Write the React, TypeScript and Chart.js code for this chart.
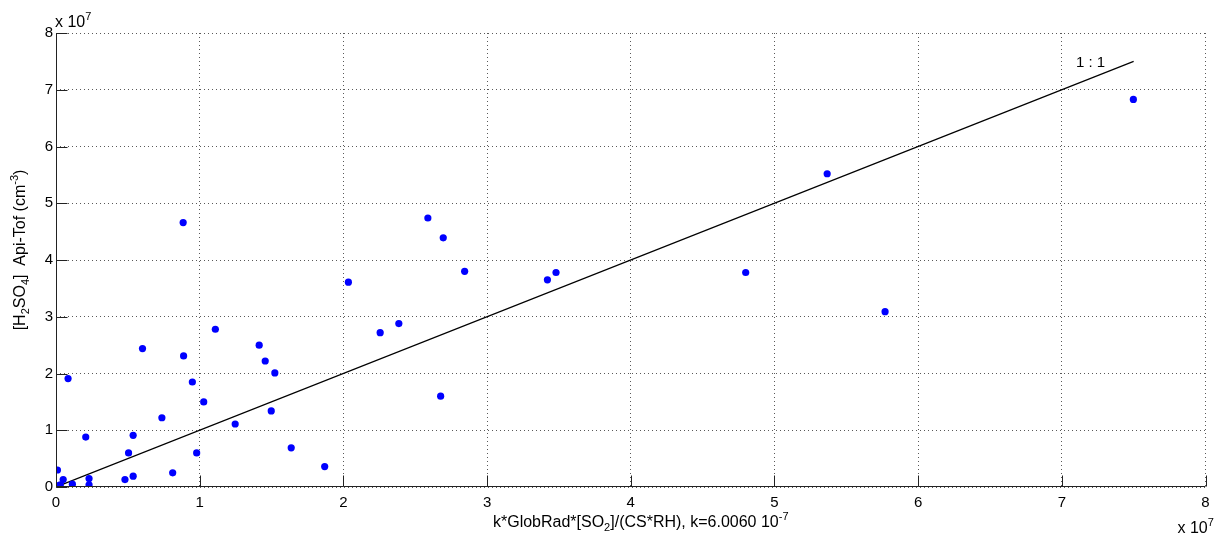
import React, { useEffect, useRef } from "react";
import { Chart, registerables } from "chart.js";

Chart.register(...registerables);

// Values in units of 1e7 (axes carry the "x 10^7" multiplier)
const xValues = [
  0.01, 0.01, 0.03, 0.05, 0.084, 0.114, 0.207, 0.23, 0.23, 0.48, 0.505, 0.537,
  0.537, 0.602, 0.737, 0.812, 0.885, 0.888, 0.949, 0.979, 1.028, 1.109, 1.247,
  1.414, 1.456, 1.498, 1.523, 1.637, 1.87, 2.035, 2.256, 2.386, 2.588, 2.695,
  2.677, 2.844, 3.42, 3.48, 4.8, 5.367, 5.77, 7.498,
];
const yValues = [
  0.3, 0.02, 0.04, 0.13, 1.91, 0.05, 0.88, 0.15, 0.04, 0.13, 0.6, 0.91, 0.19,
  2.44, 1.22, 0.25, 4.66, 2.31, 1.85, 0.6, 1.5, 2.78, 1.11, 2.5, 2.22, 1.34,
  2.01, 0.69, 0.36, 3.61, 2.72, 2.88, 4.74, 4.39, 1.6, 3.8, 3.65, 3.78, 3.78,
  5.52, 3.09, 6.83,
];
const oneToOneX = [0, 7.5];
const oneToOneY = [0, 7.5];
const oneToOneLabel = "1 : 1";
const tickValues = [0, 1, 2, 3, 4, 5, 6, 7, 8];
const axisMin = 0;
const axisMax = 8;
const multiplierBase = "x 10";
const multiplierExp = "7";

type Run = { t: string; k: "n" | "sub" | "sup" };
const xTitleRuns: Run[] = [
  { t: "k*GlobRad*[SO", k: "n" },
  { t: "2", k: "sub" },
  { t: "]/(CS*RH), k=6.0060 10", k: "n" },
  { t: "-7", k: "sup" },
];
const yTitleRuns: Run[] = [
  { t: "[H", k: "n" },
  { t: "2", k: "sub" },
  { t: "SO", k: "n" },
  { t: "4", k: "sub" },
  { t: "]  Api-Tof (cm", k: "n" },
  { t: "-3", k: "sup" },
  { t: ")", k: "n" },
];

const FONT = "'Liberation Sans', Arial, Helvetica, sans-serif";
const fontFor = (k: string) => (k === "n" ? `16px ${FONT}` : `11px ${FONT}`);
const offFor = (k: string) => (k === "sub" ? 4 : k === "sup" ? -7 : 0);

function drawRuns(ctx: CanvasRenderingContext2D, runs: Run[], x: number, y: number, align: "left" | "center") {
  let total = 0;
  for (const r of runs) {
    ctx.font = fontFor(r.k);
    total += ctx.measureText(r.t).width;
  }
  let cx = align === "center" ? x - total / 2 : x;
  ctx.textAlign = "left";
  ctx.textBaseline = "alphabetic";
  for (const r of runs) {
    ctx.font = fontFor(r.k);
    ctx.fillText(r.t, cx, y + offFor(r.k));
    cx += ctx.measureText(r.t).width;
  }
}

const decorPlugin = {
  id: "matlabDecor",
  afterDraw(chart: any) {
    const ctx: CanvasRenderingContext2D = chart.ctx;
    const xs = chart.scales.x;
    const ys = chart.scales.y;
    const { left, right, top, bottom } = chart.chartArea;
    ctx.save();
    ctx.strokeStyle = "#222";
    ctx.lineWidth = 1;
    ctx.setLineDash([]);
    // axis lines
    const L = Math.round(left) + 0.5;
    const B = Math.round(bottom) - 0.5;
    ctx.beginPath();
    ctx.moveTo(L, top);
    ctx.lineTo(L, B);
    ctx.lineTo(right, B);
    ctx.stroke();
    // inward ticks
    ctx.beginPath();
    for (const v of tickValues) {
      const py = Math.round(ys.getPixelForValue(v)) + 0.5;
      ctx.moveTo(L, py);
      ctx.lineTo(L + 11, py);
      const px = Math.round(xs.getPixelForValue(v)) + 0.5;
      ctx.moveTo(px, B);
      ctx.lineTo(px, B - 11);
    }
    ctx.stroke();

    ctx.fillStyle = "#000";
    // multipliers
    drawRuns(ctx, [{ t: multiplierBase, k: "n" }, { t: multiplierExp, k: "sup" }], left - 1, top - 6, "left");
    drawRuns(ctx, [{ t: multiplierBase, k: "n" }, { t: multiplierExp, k: "sup" }], right - 28, bottom + 46, "left");

    // 1:1 label
    ctx.font = `15px ${FONT}`;
    ctx.textAlign = "center";
    ctx.textBaseline = "alphabetic";
    ctx.fillText(oneToOneLabel, xs.getPixelForValue(7.2), ys.getPixelForValue(7.4));

    // x title
    drawRuns(ctx, xTitleRuns, (left + right) / 2 + 10, bottom + 40, "center");

    // y title
    ctx.save();
    ctx.translate(25, (top + bottom) / 2 - 10);
    ctx.rotate(-Math.PI / 2);
    drawRuns(ctx, yTitleRuns, 0, 0, "center");
    ctx.restore();

    ctx.restore();
  },
};

export default function App() {
  const ref = useRef<HTMLCanvasElement | null>(null);
  useEffect(() => {
    document.body.style.margin = "0";
    const canvas = ref.current;
    if (!canvas) return;
    const points = xValues.map((x, i) => ({ x, y: yValues[i] }));
    const line = oneToOneX.map((x, i) => ({ x, y: oneToOneY[i] }));
    const chart = new Chart(canvas, {
      type: "scatter",
      data: {
        datasets: [
          {
            type: "line",
            data: line,
            borderColor: "#000",
            borderWidth: 1.2,
            pointRadius: 0,
            fill: false,
            tension: 0,
            order: 2,
          } as any,
          {
            data: points,
            backgroundColor: "#0000ff",
            borderWidth: 0,
            pointRadius: 3.6,
            order: 1,
          },
        ],
      },
      options: {
        animation: false,
        responsive: false,
        maintainAspectRatio: false,
        devicePixelRatio: 1,
        layout: { padding: { left: 0, right: 11.5, top: 33, bottom: 0 } },
        plugins: {
          legend: { display: false },
          tooltip: { enabled: false },
        },
        scales: {
          x: {
            type: "linear",
            min: axisMin,
            max: axisMax,
            afterFit(scale: any) {
              scale.height = 49;
            },
            afterBuildTicks(scale: any) {
              scale.ticks = tickValues.map((v) => ({ value: v }));
            },
            ticks: {
              font: { size: 15, family: FONT },
              color: "#000",
              padding: 7,
              maxRotation: 0,
            },
            grid: { color: "rgba(60,60,60,0.85)", lineWidth: 1, drawTicks: false },
            border: { display: false, dash: [1, 3] },
          },
          y: {
            type: "linear",
            min: axisMin,
            max: axisMax,
            afterFit(scale: any) {
              scale.width = 56;
            },
            afterBuildTicks(scale: any) {
              scale.ticks = tickValues.map((v) => ({ value: v }));
            },
            ticks: {
              font: { size: 15, family: FONT },
              color: "#000",
              padding: 3,
            },
            grid: { color: "rgba(60,60,60,0.85)", lineWidth: 1, drawTicks: false },
            border: { display: false, dash: [1, 3] },
          },
        },
      },
      plugins: [decorPlugin],
    });
    return () => chart.destroy();
  }, []);
  return (
    <div style={{ width: 1217, height: 536, background: "#fff" }}>
      <canvas ref={ref} width={1217} height={536} style={{ display: "block" }} />
    </div>
  );
}
